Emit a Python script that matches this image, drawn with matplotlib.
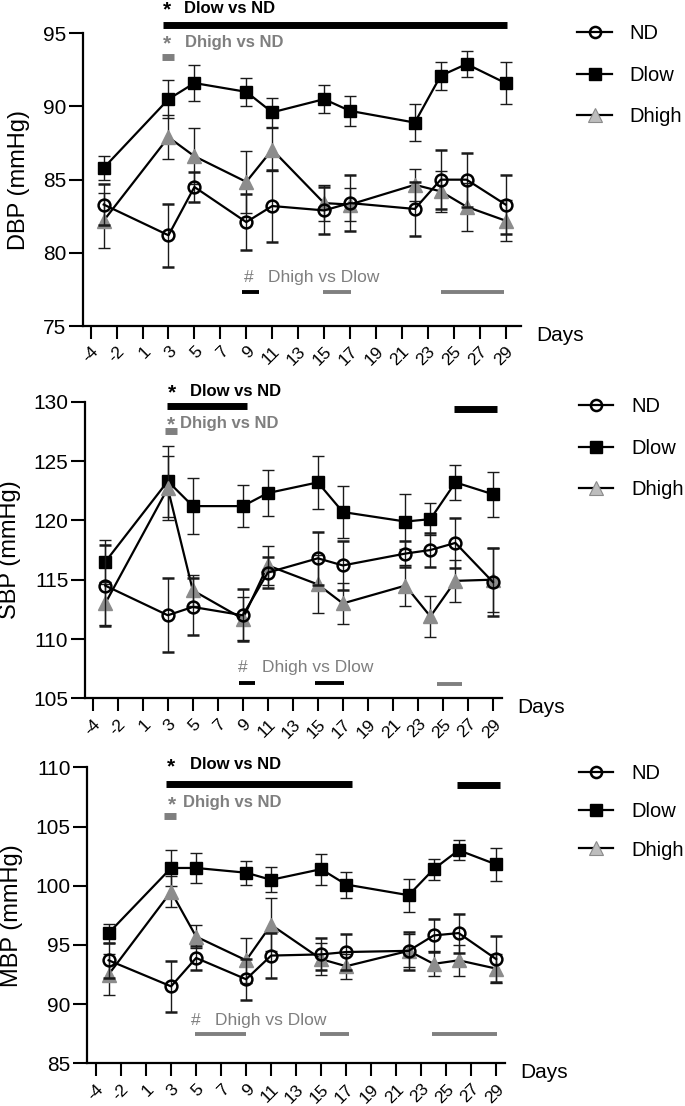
import numpy as np
import matplotlib
matplotlib.use("Agg")
import matplotlib.pyplot as plt
from matplotlib.lines import Line2D

plt.rcParams['font.family'] = ['Liberation Sans', 'DejaVu Sans']

TICK_DAYS = [-4, -2, 1, 3, 5, 7, 9, 11, 13, 15, 17, 19, 21, 23, 25, 27, 29]
DAYS = [-3, 3, 5, 9, 11, 15, 17, 22, 24, 26, 29]
GROUPS = ["ND", "Dlow", "Dhigh"]

# ---------------------------------------------------------------------------
# values (mean, SEM)
# ---------------------------------------------------------------------------
dbp_nd        = [83.3, 81.2, 84.5, 82.1, 83.2, 82.9, 83.4, 83.0, 85.0, 85.0, 83.3]
dbp_nd_err    = [1.4, 2.15, 1.05, 1.9, 2.45, 1.6, 1.9, 1.85, 2.0, 1.85, 2.0]
dbp_dlow      = [85.8, 90.5, 91.6, 91.0, 89.6, 90.5, 89.7, 88.9, 92.1, 92.9, 91.6]
dbp_dlow_err  = [0.85, 1.3, 1.2, 0.95, 1.0, 0.95, 1.0, 1.25, 0.95, 0.9, 1.45]
dbp_dhigh     = [82.2, 87.9, 86.6, 84.85, 87.05, 83.4, 83.3, 84.65, 84.2, 83.15, 82.2]
dbp_dhigh_err = [1.9, 1.5, 1.9, 2.1, 1.45, 1.25, 1.15, 1.1, 1.4, 1.65, 1.4]

sbp_nd        = [114.5, 112.0, 112.7, 112.0, 115.6, 116.8, 116.2, 117.2, 117.5, 118.1, 114.8]
sbp_nd_err    = [3.4, 3.1, 2.4, 2.2, 1.3, 2.25, 2.05, 1.1, 1.45, 2.1, 2.9]
sbp_dlow      = [116.5, 123.3, 121.2, 121.2, 122.3, 123.2, 120.7, 119.9, 120.1, 123.2, 122.2]
sbp_dlow_err  = [1.85, 3.0, 2.35, 1.75, 1.95, 2.25, 2.2, 2.3, 1.35, 1.5, 1.9]
sbp_dhigh     = [113.0, 122.7, 114.1, 111.7, 116.2, 114.6, 113.0, 114.5, 111.9, 114.9, 115.0]
sbp_dhigh_err = [1.8, 2.7, 1.3, 1.8, 1.65, 2.45, 1.7, 1.7, 1.7, 1.8, 2.7]

mbp_nd        = [93.7, 91.5, 93.9, 92.1, 94.1, 94.2, 94.4, 94.5, 95.8, 96.0, 93.8]
mbp_nd_err    = [1.5, 2.15, 1.05, 1.75, 1.9, 1.35, 1.5, 1.6, 1.4, 1.65, 1.95]
mbp_dlow      = [96.0, 101.5, 101.5, 101.1, 100.5, 101.4, 100.1, 99.2, 101.4, 103.0, 101.8]
mbp_dlow_err  = [0.8, 1.55, 1.3, 1.0, 1.05, 1.3, 1.1, 1.4, 0.9, 0.85, 1.4]
mbp_dhigh     = [92.5, 99.5, 95.7, 93.7, 96.7, 93.8, 93.2, 94.5, 93.4, 93.7, 93.0]
mbp_dhigh_err = [1.7, 1.3, 1.0, 1.9, 2.25, 1.35, 1.05, 1.4, 1.05, 1.3, 1.2]

# significance bars: (day_start, day_end, y[, colour])
dbp_dlow_nd    = [(2.6, 29.1, 95.57)]
dbp_dhigh_nd   = [(2.5, 3.4, 93.4)]
dbp_dhigh_dlow = [(8.7, 10.0, 77.3, "k"), (14.9, 17.1, 77.3, "g"), (24.0, 28.9, 77.3, "g")]

sbp_dlow_nd    = [(2.9, 9.3, 129.6), (25.9, 29.3, 129.35)]
sbp_dhigh_nd   = [(2.8, 3.7, 127.5)]
sbp_dhigh_dlow = [(8.7, 10.0, 106.3, "k"), (14.8, 17.1, 106.3, "k"), (24.5, 26.5, 106.2, "g")]

mbp_dlow_nd    = [(2.6, 17.5, 108.6), (25.9, 29.3, 108.5)]
mbp_dhigh_nd   = [(2.4, 3.4, 105.9)]
mbp_dhigh_dlow = [(4.9, 9.0, 87.45, "g"), (14.9, 17.2, 87.45, "g"), (23.9, 29.1, 87.45, "g")]

BLACK = "black"
GRAY_TXT = "#7f7f7f"
TRI = "#8c8c8c"
TRI_LEG = "#bdbdbd"
ERR = "#1a1a1a"


def day_pos(d):
    # equally spaced ticks: -4, -2, then every second day from 1
    d = np.asarray(d, float)
    return np.where(d >= 1, (d + 3) / 2, (d + 4) / 2)


panels = [
    dict(rect=[0.1207, 0.7052, 0.640, 0.2647], xlim=(-0.31, 16.6), ylim=(75, 95),
         ylabel="DBP (mmHg)", data=(dbp_nd, dbp_nd_err, dbp_dlow, dbp_dlow_err, dbp_dhigh, dbp_dhigh_err),
         dlow_nd=dbp_dlow_nd, dhigh_nd=dbp_dhigh_nd, dhigh_dlow=dbp_dhigh_dlow,
         t1=(2.95, 3.6, 96.72), t2=(2.93, 3.64, 94.4), t3=(6.1, 6.85, 78.3),
         leg=(0.843, 0.978), legsp=1.12),
    dict(rect=[0.1241, 0.3686, 0.609, 0.2682], xlim=(-0.31, 16.37), ylim=(105, 130),
         ylabel="SBP (mmHg)", data=(sbp_nd, sbp_nd_err, sbp_dlow, sbp_dlow_err, sbp_dhigh, sbp_dhigh_err),
         dlow_nd=sbp_dlow_nd, dhigh_nd=sbp_dhigh_nd, dhigh_dlow=sbp_dhigh_dlow,
         t1=(3.16, 3.89, 130.9), t2=(3.12, 3.49, 128.2), t3=(6.0, 6.76, 107.6),
         leg=(0.845, 0.641), legsp=1.12),
    dict(rect=[0.1275, 0.0386, 0.610, 0.2676], xlim=(-0.35, 16.36), ylim=(85, 110),
         ylabel="MBP (mmHg)", data=(mbp_nd, mbp_nd_err, mbp_dlow, mbp_dlow_err, mbp_dhigh, mbp_dhigh_err),
         dlow_nd=mbp_dlow_nd, dhigh_nd=mbp_dhigh_nd, dhigh_dlow=mbp_dhigh_dlow,
         t1=(2.99, 3.76, 110.2), t2=(3.03, 3.47, 107.0), t3=(4.0, 4.76, 88.6),
         leg=(0.845, 0.309), legsp=0.95),
]

fig = plt.figure(figsize=(6.85, 11.06), dpi=100)

for p in panels:
    ax = fig.add_axes(p["rect"])
    nd, nd_e, dl, dl_e, dh, dh_e = p["data"]
    x = day_pos(DAYS)
    common = dict(color=BLACK, lw=1.6, ecolor=ERR, elinewidth=1.0, capsize=4, capthick=1.0)
    ax.errorbar(x, dl, yerr=dl_e, marker="s", ms=8.5, mfc=BLACK, mec=BLACK, zorder=3, **common)
    ax.errorbar(x, dh, yerr=dh_e, marker="^", ms=10, mfc=TRI, mec=TRI, zorder=4, **common)
    ax.errorbar(x, nd, yerr=nd_e, marker="o", ms=8.5, mfc="none", mec=BLACK, mew=1.8, zorder=5, **common)

    ax.set_xlim(*p["xlim"])
    ax.set_ylim(*p["ylim"])
    ax.set_yticks(np.arange(p["ylim"][0], p["ylim"][1] + 1, 5))
    ax.set_xticks(day_pos(TICK_DAYS))
    ax.set_xticklabels([str(t) for t in TICK_DAYS], rotation=45, ha="right",
                       rotation_mode="anchor", fontsize=12.5)
    ax.tick_params(axis="y", labelsize=15, length=10, width=1.5, pad=2)
    ax.tick_params(axis="x", length=9, width=1.5, pad=4)
    for s in ["top", "right"]:
        ax.spines[s].set_visible(False)
    for s in ["left", "bottom"]:
        ax.spines[s].set_linewidth(1.6)
    ax.set_ylabel(p["ylabel"], fontsize=17, labelpad=9)
    ax.text(1.035, 0.0, "Days", transform=ax.transAxes, fontsize=15, va="top", ha="left")

    # significance annotations
    for d0, d1, yy in p["dlow_nd"]:
        ax.plot(day_pos([d0, d1]), [yy, yy], color=BLACK, lw=5, solid_capstyle="butt", clip_on=False)
    for d0, d1, yy in p["dhigh_nd"]:
        ax.plot(day_pos([d0, d1]), [yy, yy], color=GRAY_TXT, lw=5, solid_capstyle="butt", clip_on=False)
    for d0, d1, yy, c in p["dhigh_dlow"]:
        ax.plot(day_pos([d0, d1]), [yy, yy], color=BLACK if c == "k" else GRAY_TXT, lw=2.8,
                solid_capstyle="butt", clip_on=False)

    sx, tx, ty = p["t1"]
    ax.text(sx, ty - 0.15, "*", fontsize=15, fontweight="bold", color=BLACK, ha="center", va="center", clip_on=False)
    ax.text(tx, ty, "Dlow vs ND", fontsize=12, fontweight="bold", color=BLACK, ha="left", va="center", clip_on=False)
    sx, tx, ty = p["t2"]
    ax.text(sx, ty - 0.15, "*", fontsize=15, fontweight="bold", color=GRAY_TXT, ha="center", va="center", clip_on=False)
    ax.text(tx, ty, "Dhigh vs ND", fontsize=12, fontweight="bold", color=GRAY_TXT, ha="left", va="center", clip_on=False)
    sx, tx, ty = p["t3"]
    ax.text(sx, ty, "#", fontsize=12.5, color=GRAY_TXT, ha="center", va="center")
    ax.text(tx, ty, "Dhigh vs Dlow", fontsize=12.5, color=GRAY_TXT, ha="left", va="center")

    handles = [
        Line2D([], [], color=BLACK, lw=1.6, marker="o", ms=8, mfc="none", mec=BLACK, mew=1.8),
        Line2D([], [], color=BLACK, lw=1.6, marker="s", ms=8, mfc=BLACK, mec=BLACK),
        Line2D([], [], color=BLACK, lw=1.6, marker="^", ms=10, mfc=TRI_LEG, mec="#8a8a8a", mew=0.8),
    ]
    fig.legend(handles, GROUPS, loc="upper left", bbox_to_anchor=p["leg"], frameon=False,
               fontsize=14.5, handlelength=1.7, handletextpad=0.9, labelspacing=p["legsp"],
               borderaxespad=0, borderpad=0)

fig.savefig("out.png", dpi=100)
